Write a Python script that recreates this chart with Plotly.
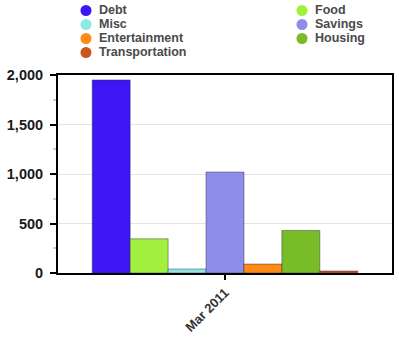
import plotly.graph_objects as go

# ---- data ----
categories = ["Mar 2011"]
series_names = ["Debt", "Food", "Misc", "Savings", "Entertainment", "Housing", "Transportation"]
series_values = [1950, 345, 40, 1020, 90, 430, 20]
series_colors = ["#3e16f6", "#a2f03e", "#8ee8e6", "#8e8eea", "#ff8a16", "#78bc28", "#c8561e"]
y_tickvals = [0, 500, 1000, 1500, 2000]
y_ticktext = ["0", "500", "1,000", "1,500", "2,000"]

W, H = 399, 338
FONT = "Liberation Sans, Arial, Helvetica, sans-serif"

fig = go.Figure()
for name, val, col in zip(series_names, series_values, series_colors):
    fig.add_trace(go.Bar(
        x=categories, y=[val], name=name,
        marker=dict(color=col, line=dict(color="rgba(40,40,60,0.45)", width=1)),
        showlegend=False,
    ))

# custom two-column legend (circle markers, tight row spacing)
shapes = []
annotations = []
col_x = [86, 302]
row_y0, row_dy = 10.5, 14
r = 5.5
for i, (name, col) in enumerate(zip(series_names, series_colors)):
    cx = col_x[i % 2]
    cy = row_y0 + row_dy * (i // 2)
    shapes.append(dict(type="circle", xref="paper", yref="paper",
                       x0=(cx - r) / W, x1=(cx + r) / W,
                       y0=1 - (cy + r) / H, y1=1 - (cy - r) / H,
                       fillcolor=col, line=dict(width=0)))
    annotations.append(dict(xref="paper", yref="paper", x=(cx + 10.5) / W, y=1 - cy / H,
                            text=name, showarrow=False, xanchor="left", yanchor="middle",
                            font=dict(family=FONT, size=12.5, color="#4a4a4a", weight="bold")))

fig.update_layout(
    width=W, height=H,
    margin=dict(l=0, r=0, t=0, b=0, pad=0),
    paper_bgcolor="white", plot_bgcolor="white",
    barmode="group", bargap=0.205, bargroupgap=0,
    shapes=shapes, annotations=annotations,
    showlegend=False,
    xaxis=dict(
        domain=[58 / W, 392 / W],
        automargin=False,
        showline=True, linecolor="black", linewidth=2, mirror=True,
        ticks="outside", ticklen=5, tickwidth=2, tickcolor="black",
        tickangle=-45,
        tickfont=dict(family=FONT, size=13, color="#333333", weight="bold"),
        showgrid=False, fixedrange=True,
    ),
    yaxis=dict(
        domain=[1 - 273 / H, 1 - 75 / H],
        automargin=False,
        range=[0, 2000],
        tickvals=y_tickvals, ticktext=y_ticktext,
        showline=True, linecolor="black", linewidth=2, mirror=True,
        ticks="outside", ticklen=6, tickwidth=2, tickcolor="black",
        ticklabelstandoff=4,
        tickfont=dict(family=FONT, size=14.5, color="#1a1a1a", weight="bold"),
        showgrid=True, gridcolor="#e3e3e3", gridwidth=1,
        zeroline=False,
        minor=dict(dtick=250, ticks="outside", ticklen=3, tickcolor="#cccccc", showgrid=False),
        fixedrange=True,
    ),
)

fig.write_html("out.html")
